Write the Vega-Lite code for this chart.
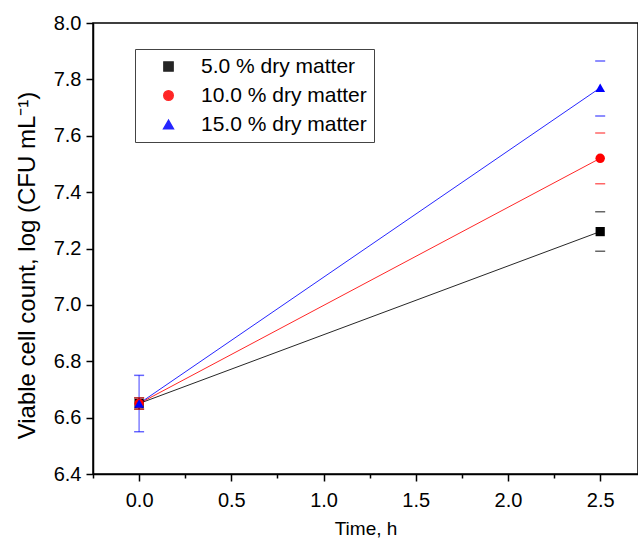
{
  "$schema": "https://vega.github.io/schema/vega-lite/v6.json",
  "width": 545,
  "height": 451,
  "autosize": {"type": "none"},
  "padding": {"left": 93, "top": 23, "right": 0, "bottom": 68},
  "background": "white",
  "config": {
    "font": "Liberation Sans",
    "view": {"stroke": "black", "strokeWidth": 1.5},
    "axis": {
      "grid": false,
      "domainColor": "black",
      "domainWidth": 1.5,
      "tickColor": "black",
      "tickWidth": 1.5,
      "labelColor": "black",
      "labelFont": "Liberation Sans",
      "labelFontSize": 20,
      "titleFont": "Liberation Sans",
      "titleFontWeight": "normal",
      "titleColor": "black"
    },
    "legend": {
      "orient": "none",
      "legendX": 42,
      "legendY": 26,
      "strokeColor": "#444444",
      "fillColor": "white",
      "padding": 7,
      "labelFont": "Liberation Sans",
      "labelFontSize": 21,
      "labelColor": "black",
      "labelLimit": 400,
      "symbolSize": 100,
      "symbolOffset": 16,
      "labelOffset": 22,
      "rowPadding": 7
    }
  },
  "data": {
    "values": [
      {"t": 0, "v": 6.65, "lo": 6.63, "hi": 6.67, "s": "5.0 % dry matter"},
      {"t": 2.5, "v": 7.26, "lo": 7.19, "hi": 7.33, "s": "5.0 % dry matter"},
      {"t": 0, "v": 6.65, "lo": 6.63, "hi": 6.67, "s": "10.0 % dry matter"},
      {"t": 2.5, "v": 7.52, "lo": 7.43, "hi": 7.61, "s": "10.0 % dry matter"},
      {"t": 0, "v": 6.65, "lo": 6.55, "hi": 6.75, "s": "15.0 % dry matter"},
      {"t": 2.5, "v": 7.77, "lo": 7.67, "hi": 7.865, "s": "15.0 % dry matter"}
    ]
  },
  "encoding": {
    "x": {
      "field": "t",
      "type": "quantitative",
      "scale": {"domain": [-0.25, 2.705], "nice": false, "zero": false},
      "axis": {
        "title": "Time, h",
        "titleFontSize": 19,
        "titleY": 54,
        "titleBaseline": "middle",
        "values": [-0.25, 0, 0.25, 0.5, 0.75, 1, 1.25, 1.5, 1.75, 2, 2.25, 2.5],
        "labelExpr": "(abs(datum.value*2 - round(datum.value*2)) < 0.001 && datum.value > -0.1) ? format(datum.value, '.1f') : ''",
        "tickSize": {"condition": {"test": "abs(datum.value*2 - round(datum.value*2)) < 0.001", "value": 7}, "value": 4},
        "labelPadding": 9,
        "labelFlush": false,
        "labelOverlap": false
      }
    },
    "color": {
      "field": "s",
      "type": "nominal",
      "scale": {
        "domain": ["5.0 % dry matter", "10.0 % dry matter", "15.0 % dry matter"],
        "range": ["#000000", "#ff0000", "#0000ff"]
      },
      "legend": {"title": null}
    }
  },
  "layer": [
    {
      "mark": {"type": "line", "strokeWidth": 1, "opacity": 0.85},
      "encoding": {
        "y": {
          "field": "v",
          "type": "quantitative",
          "scale": {"domain": [6.4, 8.0], "nice": false, "zero": false},
          "axis": {
            "title": "Viable cell count, log (CFU mL⁻¹)",
            "titleFontSize": 24,
            "titleX": -66,
            "titleY": 242,
            "titleAngle": -90,
            "titleAlign": "center",
            "titleBaseline": "middle",
            "values": [6.4, 6.5, 6.6, 6.7, 6.8, 6.9, 7.0, 7.1, 7.2, 7.3, 7.4, 7.5, 7.6, 7.7, 7.8, 7.9, 8.0],
            "labelExpr": "abs(datum.value*5 - round(datum.value*5)) < 0.001 ? format(datum.value, '.1f') : ''",
            "tickSize": {"condition": {"test": "abs(datum.value*5 - round(datum.value*5)) < 0.001", "value": 7}, "value": 4},
            "labelPadding": 5,
            "labelFlush": false,
            "labelOverlap": false
          }
        }
      }
    },
    {
      "transform": [{"filter": "datum.t == 0"}],
      "mark": {"type": "rule", "strokeWidth": 1.5, "opacity": 0.5},
      "encoding": {
        "y": {"field": "lo", "type": "quantitative"},
        "y2": {"field": "hi"}
      }
    },
    {
      "mark": {"type": "tick", "orient": "horizontal", "size": 10, "thickness": 1.5, "opacity": 0.6},
      "encoding": {"y": {"field": "lo", "type": "quantitative"}}
    },
    {
      "mark": {"type": "tick", "orient": "horizontal", "size": 10, "thickness": 1.5, "opacity": 0.6},
      "encoding": {"y": {"field": "hi", "type": "quantitative"}}
    },
    {
      "mark": {"type": "point", "filled": true, "opacity": 1},
      "encoding": {
        "y": {"field": "v", "type": "quantitative"},
        "shape": {
          "field": "s",
          "type": "nominal",
          "scale": {
            "domain": ["5.0 % dry matter", "10.0 % dry matter", "15.0 % dry matter"],
            "range": ["square", "circle", "triangle-up"]
          },
          "legend": null
        },
        "size": {
          "field": "s",
          "type": "nominal",
          "scale": {
            "domain": ["5.0 % dry matter", "10.0 % dry matter", "15.0 % dry matter"],
            "range": [85, 95, 170]
          },
          "legend": null
        }
      }
    }
  ]
}
